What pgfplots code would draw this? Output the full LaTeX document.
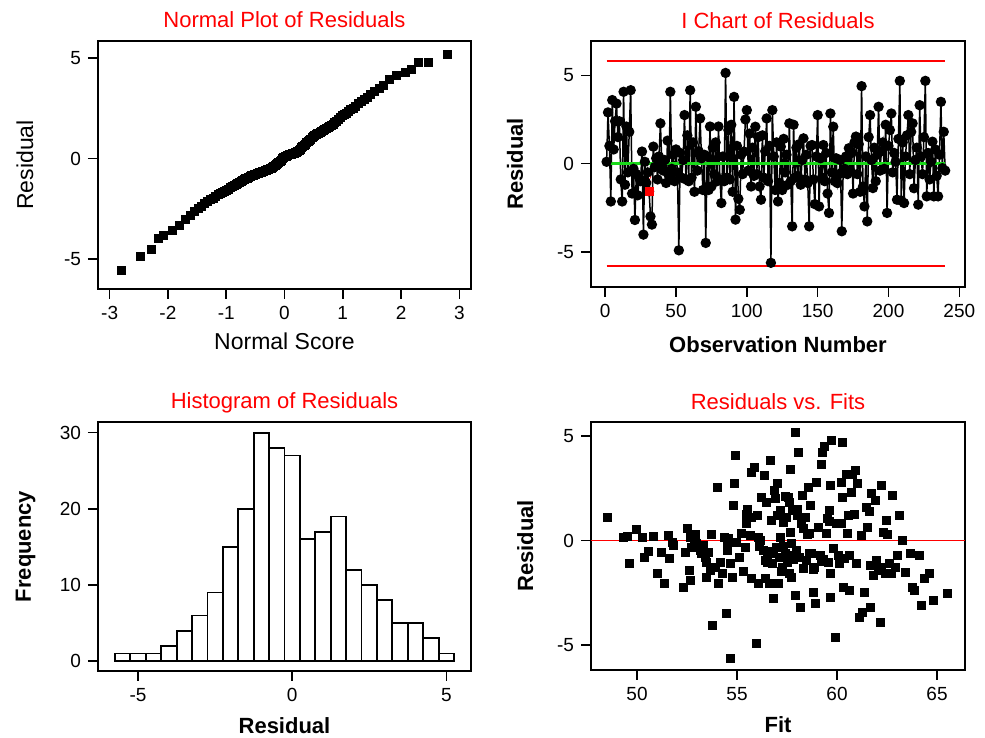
\documentclass[border=0pt]{standalone}
\usepackage{fontspec}
\setmainfont{Liberation Sans}
\usepackage{pgfplots}
\pgfplotsset{compat=1.18}
\definecolor{cgreen}{rgb}{0.1,0.85,0.1}
\pgfplotsset{
  panel/.style={
    scale only axis,
    axis line style={line width=1pt},
    every tick/.style={line width=0.8pt, black},
    tick align=outside, major tick length=5pt,
    xtick pos=bottom, ytick pos=left,
    minor tick num=0,
    tick label style={font=\fontsize{9.5}{11}\selectfont},
    /pgf/number format/assume math mode=true,
    every axis title/.style={at={(0.5,1)}, anchor=base, yshift=6.5pt, font=\fontsize{11}{13}\selectfont, text=red},
    clip=true,
  },
  reglab/.style={label style={font=\fontsize{11.5}{13}\selectfont}},
  boldlab/.style={label style={font=\fontsize{11}{13}\selectfont\bfseries}},
}
\begin{document}
\begin{tikzpicture}
\useasboundingbox (0,0) rectangle (492.5pt,369pt);
% ---------------- Normal plot
\begin{axis}[panel, reglab, at={(49pt,224.5pt)}, anchor=south west,
  width=186.5pt, height=124pt,
  xmin=-3.2, xmax=3.2, ymin=-6.5, ymax=5.85,
  xtick={-3,-2,-1,0,1,2,3}, ytick={-5,0,5},
  title={Normal Plot of Residuals},
  xlabel={Normal Score}, ylabel={Residual},
  xlabel style={at={(axis description cs:0.5,0)}, anchor=base, yshift=-30.5pt},
  ylabel style={at={(axis description cs:-0.174,0.5)}, anchor=base},
]
\addplot[only marks, mark=square*, mark size=2pt, black] coordinates {
(-2.80,-5.57) (-2.47,-4.88) (-2.29,-4.53) (-2.17,-4.00) (-2.07,-3.82)
(-1.917,-3.57) (-1.800,-3.35) (-1.704,-3.05) (-1.621,-2.85) (-1.547,-2.65)
(-1.481,-2.48) (-1.422,-2.37) (-1.367,-2.25) (-1.315,-2.15) (-1.268,-2.05)
(-1.222,-1.97) (-1.179,-1.88) (-1.138,-1.80) (-1.099,-1.73) (-1.062,-1.68)
(-1.026,-1.63) (-0.991,-1.57) (-0.958,-1.52) (-0.925,-1.45) (-0.894,-1.40)
(-0.863,-1.34) (-0.833,-1.29) (-0.804,-1.24) (-0.776,-1.18) (-0.747,-1.14)
(-0.720,-1.09) (-0.693,-1.05) (-0.667,-1.00) (-0.641,-0.97) (-0.616,-0.93)
(-0.590,-0.90) (-0.566,-0.86) (-0.542,-0.84) (-0.518,-0.81) (-0.494,-0.79)
(-0.471,-0.76) (-0.448,-0.74) (-0.424,-0.71) (-0.402,-0.68) (-0.380,-0.66)
(-0.357,-0.63) (-0.335,-0.60) (-0.313,-0.58) (-0.291,-0.55) (-0.269,-0.52)
(-0.248,-0.50) (-0.227,-0.47) (-0.205,-0.43) (-0.184,-0.40) (-0.163,-0.36)
(-0.142,-0.32) (-0.120,-0.26) (-0.099,-0.20) (-0.078,-0.14) (-0.057,-0.08)
(-0.037,-0.02) (-0.016,0.03)
(0.016,0.08) (0.037,0.12) (0.057,0.15) (0.078,0.18) (0.099,0.20)
(0.120,0.22) (0.142,0.24) (0.163,0.26) (0.184,0.28) (0.205,0.30)
(0.227,0.35) (0.248,0.41) (0.269,0.47) (0.291,0.53) (0.313,0.59)
(0.335,0.65) (0.357,0.71) (0.380,0.78) (0.402,0.84) (0.424,0.90)
(0.448,0.97) (0.471,1.03) (0.494,1.10) (0.518,1.15) (0.542,1.19)
(0.566,1.23) (0.590,1.27) (0.616,1.32) (0.641,1.36) (0.667,1.40)
(0.693,1.45) (0.720,1.50) (0.747,1.55) (0.776,1.60) (0.804,1.65)
(0.833,1.70) (0.863,1.78) (0.894,1.87) (0.925,1.97) (0.958,2.07)
(0.991,2.13) (1.026,2.19) (1.062,2.26) (1.099,2.35) (1.138,2.43)
(1.179,2.51) (1.222,2.60) (1.268,2.72) (1.315,2.84) (1.367,2.94)
(1.422,3.05) (1.481,3.18) (1.547,3.32) (1.621,3.48) (1.704,3.63)
(1.800,3.93) (1.917,4.15) (2.07,4.28) (2.17,4.43) (2.29,4.76)
(2.47,4.76) (2.80,5.17)
};
\end{axis}
% ---------------- I chart
\begin{axis}[panel, boldlab, at={(295.5pt,225.5pt)}, anchor=south west,
  width=187pt, height=123pt,
  xmin=-10, xmax=254, ymin=-7, ymax=6.95,
  xtick={0,50,100,150,200,250}, ytick={-5,0,5},
  title={I Chart of Residuals},
  xlabel={Observation Number}, ylabel={Residual},
  xlabel style={at={(axis description cs:0.5,0)}, anchor=base, yshift=-33pt},
  ylabel style={at={(axis description cs:-0.182,0.5)}, anchor=base},
]
\addplot[red, line width=1pt, no marks] coordinates {(1,5.82) (240,5.82)};
\addplot[red, line width=1pt, no marks] coordinates {(1,-5.82) (240,-5.82)};
\addplot[black, line width=0.75pt, mark=*, mark size=2.2pt, mark options={fill=black, draw=black}]
 table[row sep=\\, header=false, x expr=\coordindex+1, y index=0]{
0.1\\2.9\\1.0\\-2.15\\3.6\\0.8\\2.4\\3.4\\1.5\\2.4\\
-0.9\\-2.15\\4.07\\-1.2\\2.1\\-0.5\\1.8\\4.16\\-1.7\\-0.3\\
-3.2\\-0.6\\-1.8\\-0.8\\-1.0\\0.68\\-4.03\\0.1\\-1.1\\-0.5\\
-1.58\\-3.0\\-3.46\\0.96\\-0.2\\0.3\\-0.9\\0.4\\2.28\\0.0\\
-0.4\\0.2\\-1.1\\1.3\\-0.7\\4.07\\-0.3\\0.5\\-1.0\\0.8\\
-0.5\\-4.92\\0.6\\-0.8\\0.2\\2.75\\-0.9\\1.6\\-1.0\\4.16\\
-0.8\\1.2\\-1.6\\3.22\\-0.4\\0.7\\2.56\\0.3\\-1.5\\0.5\\
-4.5\\0.4\\-1.5\\2.1\\-1.3\\0.9\\-0.6\\1.2\\-1.0\\2.1\\
-0.9\\-2.24\\0.4\\-1.0\\5.14\\-0.8\\1.9\\-0.9\\2.2\\-1.6\\
3.78\\-3.18\\1.0\\-2.0\\-2.62\\0.5\\-0.6\\0.68\\2.5\\3.03\\
-0.4\\1.7\\-1.3\\0.9\\-0.7\\2.09\\-0.6\\1.5\\-1.3\\-2.05\\
1.6\\-0.8\\0.7\\2.56\\-1.0\\1.0\\-5.63\\3.03\\0.4\\-1.5\\
1.2\\-2.15\\-1.1\\0.96\\-1.5\\1.4\\-0.5\\0.5\\-1.2\\2.28\\
-1.0\\-3.56\\2.2\\-0.8\\0.9\\-0.7\\1.1\\-1.2\\0.2\\1.43\\
-0.9\\0.5\\-1.1\\-3.56\\1.0\\1.05\\-0.9\\-2.3\\0.4\\2.75\\
-2.43\\0.3\\-0.8\\1.05\\-1.0\\0.6\\-1.7\\-2.8\\2.84\\-0.5\\
2.09\\-1.0\\0.3\\-1.11\\-0.6\\0.2\\-3.84\\-0.5\\-0.3\\0.4\\
-0.6\\0.87\\-0.4\\0.6\\-1.7\\1.2\\1.53\\-0.6\\1.1\\-1.6\\
4.39\\-1.3\\-2.43\\0.4\\-3.28\\1.5\\2.75\\0.2\\-1.39\\0.9\\
-1.0\\0.5\\3.22\\-0.4\\0.7\\1.2\\-0.3\\2.2\\-2.8\\1.0\\
1.9\\2.84\\-0.5\\0.6\\0.1\\-2.05\\1.4\\4.69\\-2.1\\1.2\\
-2.24\\0.4\\1.6\\2.75\\-0.6\\1.8\\2.28\\-1.4\\0.2\\0.9\\
-2.33\\3.31\\0.4\\-0.6\\1.5\\4.69\\-1.86\\0.6\\-0.9\\0.1\\
1.24\\-1.86\\0.8\\-0.7\\-1.86\\0.5\\3.5\\-0.26\\1.8\\-0.4\\
};
\addplot[cgreen, line width=1.1pt, no marks] coordinates {(1,0) (240,0)};
\addplot[only marks, mark=square*, mark size=2pt, red] coordinates {(31,-1.58)};
\node[red, font=\fontsize{5}{6}\selectfont] at (axis cs:31,-0.9) {2};
\end{axis}
% ---------------- Histogram
\begin{axis}[panel, boldlab, at={(49pt,33.5pt)}, anchor=south west,
  width=186.5pt, height=124.5pt,
  xmin=-6.3, xmax=5.8, ymin=-1.3, ymax=31.4,
  xtick={-5,0,5}, ytick={0,10,20,30},
  title={Histogram of Residuals},
  xlabel={Residual}, ylabel={Frequency},
  xlabel style={at={(axis description cs:0.5,0)}, anchor=base, yshift=-31pt},
  ylabel style={at={(axis description cs:-0.18,0.5)}, anchor=base},
]
\addplot[ybar, bar width=0.5, bar shift=0pt, fill=white, draw=black, line width=0.9pt] coordinates {
(-5.5,1) (-5.0,1) (-4.5,1) (-4.0,2) (-3.5,4) (-3.0,6) (-2.5,9) (-2.0,15)
(-1.5,20) (-1.0,30) (-0.5,28) (0.0,27) (0.5,16) (1.0,17) (1.5,19) (2.0,12)
(2.5,10) (3.0,8) (3.5,5) (4.0,5) (4.5,3) (5.0,1)
};
\end{axis}
% ---------------- Residuals vs Fits
\begin{axis}[panel, boldlab, at={(295.5pt,34pt)}, anchor=south west,
  width=187pt, height=124pt,
  xmin=47.7, xmax=66.4, ymin=-6.2, ymax=5.67,
  xtick={50,55,60,65}, ytick={-5,0,5},
  title={Residuals vs. Fits},
  xlabel={Fit}, ylabel={Residual},
  xlabel style={at={(axis description cs:0.5,0)}, anchor=base, yshift=-31.5pt},
  ylabel style={at={(axis description cs:-0.155,0.5)}, anchor=base},
]
\addplot[red, line width=0.9pt, no marks] coordinates {(47.7,0) (66.4,0)};
\addplot[only marks, mark=square*, mark size=2pt, black] coordinates {
(48.5,1.08) (49.33,0.16) (49.5,0.2) (49.63,-1.08) (49.95,0.53) (50.25,0.16)
(50.37,-0.83) (50.58,-0.53) (50.8,0.2) (51.0,-1.6) (51.2,-0.56) (51.38,-2.07)
(51.58,0.24) (51.6,-0.88) (51.75,-0.08) (51.83,-0.24) (52.33,-2.26) (52.41,-0.56)
(52.53,0.56) (52.6,-1.43) (52.66,-1.91) (52.66,0.16) (52.74,-0.32) (52.86,0.08)
(52.99,-0.16) (53.16,-0.48) (53.33,-0.24) (53.41,-0.8) (53.49,-1.03) (53.58,-0.56)
(53.46,-1.75) (53.66,-1.43) (53.74,0.29) (53.78,-4.06) (53.91,-1.27) (54.03,2.55)
(54.08,-2.07) (54.16,-1.03) (54.29,-1.6) (54.38,0.16) (54.49,-3.5) (54.53,-0.48)
(54.58,0.08) (54.66,-1.08) (54.69,-5.65) (54.79,-1.75) (54.82,1.67) (54.86,2.74)
(54.91,4.06) (54.96,-0.08) (55.12,-0.8) (55.24,0.32) (55.41,-0.32) (55.49,0.8)
(55.46,1.27) (55.53,1.51) (55.66,0.24) (55.71,-1.83) (55.74,3.26) (55.86,3.5)
(55.99,-4.94) (56.04,1.19) (56.07,0.16) (56.07,-2.07) (56.19,0) (56.24,2.07)
(56.32,-0.48) (56.36,3.1) (56.41,-0.96) (56.41,-1.83) (56.49,1.83) (56.52,-1.03)
(56.62,-2.07) (56.66,3.82) (56.74,0.96) (56.79,-1.11) (56.82,-2.79) (56.87,2.39)
(56.96,-0.32) (57.02,2.71) (57.07,-2.07) (57.12,-0.8) (57.16,0.16) (57.19,1.43)
(57.29,-1.27) (57.32,0.88) (57.41,-0.64) (57.49,1.11) (57.52,-1.03) (57.56,2.07)
(57.6,-1.59) (57.66,0.4) (57.69,3.42) (57.7,-1.75) (57.74,-0.16) (57.79,1.43)
(57.82,-0.72) (57.9,-2.63) (57.94,5.18) (57.99,-0.48) (58.02,1.51) (58.07,4.22)
(58.12,-0.8) (58.19,-3.18) (58.24,0.8) (58.29,2.15) (58.32,-1.35) (58.41,1.11)
(58.49,-0.96) (58.57,2.55) (58.62,0.32) (58.69,1.67) (58.74,-0.64) (58.81,-2.47)
(58.87,-1.27) (58.94,-3.03) (58.99,2.79) (59.07,0.64) (59.15,-0.72) (59.24,3.66)
(59.28,4.22) (59.35,4.49) (59.45,0.32) (59.52,1.04) (59.57,-1.03) (59.62,1.43)
(59.65,-1.59) (59.69,-2.71) (59.69,2.63) (59.73,4.78) (59.9,-4.62) (59.98,0.8)
(60.07,-0.72) (60.12,-1.11) (60.2,2.79) (60.25,4.7) (60.29,2.07) (60.32,-2.23)
(60.37,-0.88) (60.45,3.18) (60.54,0.32) (60.59,1.19) (60.62,-2.39) (60.71,2.31)
(60.79,3.18) (60.87,1.27) (60.92,3.34) (60.95,-1.11) (61.04,2.71) (61.13,-3.66)
(61.21,0.24) (61.26,-3.42) (61.38,-2.47) (61.48,1.59) (61.53,0.64) (61.65,-1.19)
(61.68,-3.18) (61.73,2.23) (61.81,-1.67) (61.9,1.91) (61.98,-0.96) (62.06,-1.43)
(62.18,-3.9) (62.23,2.63) (62.31,0.4) (62.4,-1.59) (62.48,0.96) (62.61,-1.11)
(62.73,-1.59) (62.78,2.15) (62.9,-1.27) (63.01,-0.72) (63.14,1.19) (63.28,0)
(63.44,-1.51) (63.68,-0.64) (63.78,-2.23) (63.89,-2.39) (64.14,-0.72) (64.23,-3.1)
(64.39,-1.83) (64.61,-1.59) (64.81,-2.87) (65.51,-2.52)
(57.3,-0.3) (57.8,-0.9) (58.3,0.6) (58.6,-0.6) (59.2,-1.0) (59.8,-0.4)
(57.0,1.2) (56.5,-0.5) (58.0,1.2) (57.6,1.8) (56.9,2.0) (57.4,2.1)
(60.6,-0.7) (61.9,-1.2) (62.2,-1.3) (62.5,0.3) (61.6,1.4) (59.3,-0.9)
(58.8,-1.4) (60.2,0.8) (55.7,1.1) (56.1,-0.3) (53.2,-0.6) (52.9,0.3)
(54.5,-0.3) (55.3,-1.5) (57.2,-1.5) (58.5,0.3) (59.6,0.9) (56.8,-0.6)
};
\end{axis}
\end{tikzpicture}
\end{document}
